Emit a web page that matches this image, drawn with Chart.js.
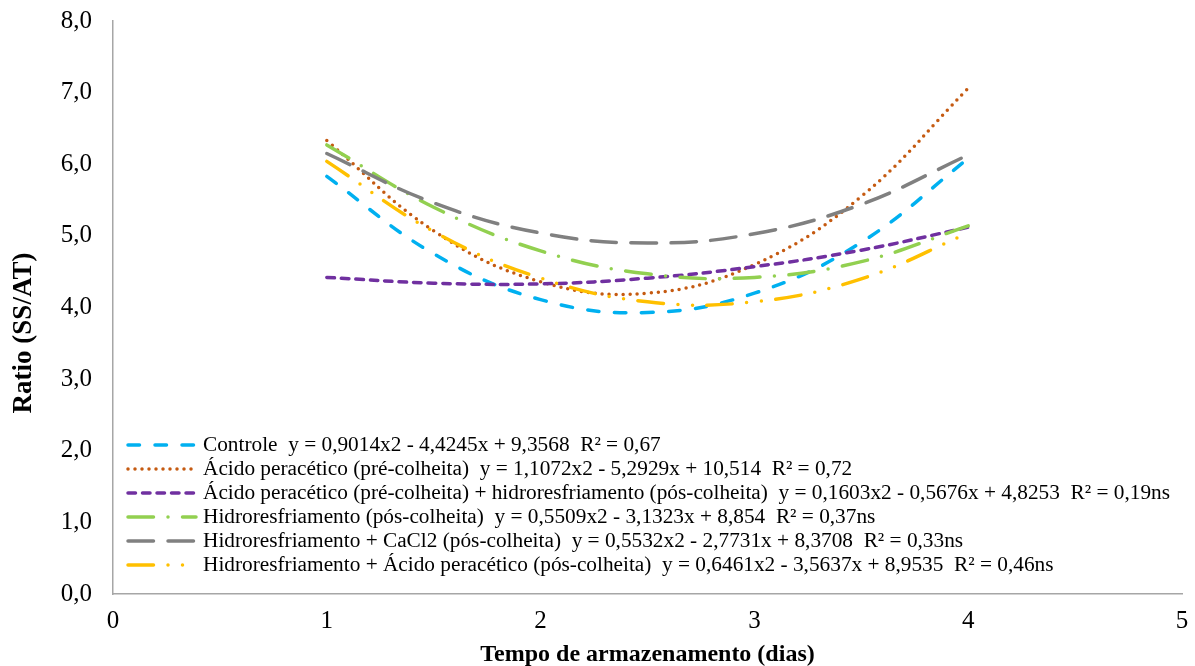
<!DOCTYPE html>
<html>
<head>
<meta charset="utf-8">
<script src="https://cdn.jsdelivr.net/npm/chart.js@4"></script>
<style>
  html, body { margin: 0; padding: 0; background: #fff; }
  #wrap { width: 1195px; height: 666px; }
</style>
</head>
<body>
<div id="wrap"><canvas id="chart" width="1195" height="666"></canvas></div>
<script>
// ─── DATA ─────────────────────────────────────────────────────────────────────
const days = [1, 1.5, 2, 2.5, 3, 3.5, 4]

const controle      = [5.83, 4.75, 4.11, 3.93, 4.20, 4.91, 6.08]
const acidoPre      = [6.33, 5.07, 4.36, 4.20, 4.60, 5.55, 7.06]
const acidoPreHidro = [4.42, 4.34, 4.33, 4.41, 4.57, 4.80, 5.12]
const hidro         = [6.27, 5.40, 4.79, 4.47, 4.42, 4.64, 5.14]
const hidroCaCl2    = [6.15, 5.46, 5.04, 4.90, 5.03, 5.44, 6.13]
const hidroAcido    = [6.04, 5.06, 4.41, 4.08, 4.08, 4.40, 5.04]

const legendLabels = [
  "Controle  y = 0,9014x2 - 4,4245x + 9,3568  R² = 0,67",
  "Ácido peracético (pré-colheita)  y = 1,1072x2 - 5,2929x + 10,514  R² = 0,72",
  "Ácido peracético (pré-colheita) + hidroresfriamento (pós-colheita)  y = 0,1603x2 - 0,5676x + 4,8253  R² = 0,19ns",
  "Hidroresfriamento (pós-colheita)  y = 0,5509x2 - 3,1323x + 8,854  R² = 0,37ns",
  "Hidroresfriamento + CaCl2 (pós-colheita)  y = 0,5532x2 - 2,7731x + 8,3708  R² = 0,33ns",
  "Hidroresfriamento + Ácido peracético (pós-colheita)  y = 0,6461x2 - 3,5637x + 8,9535  R² = 0,46ns",
]

const xTicks = [0, 1, 2, 3, 4, 5]
const yTicks = [0, 1, 2, 3, 4, 5, 6, 7, 8]

const xTitle = "Tempo de armazenamento (dias)"
const yTitle = "Ratio (SS/AT)"

// ─── STYLES ───────────────────────────────────────────────────────────────────
const SERIF = "'Liberation Serif', 'Times New Roman', serif"
const LW = 3.5

const seriesStyle = [
  { color: "#00B0F0", dash: [11.5, 15.5] },                 // dash
  { color: "#C55A11", dash: [0, 7] },                        // round dot
  { color: "#7030A0", dash: [7.5, 7] },                      // short dash
  { color: "#92D050", dash: [25.5, 14.5, 0, 14.5] },         // long dash dot
  { color: "#808080", dash: [25.5, 14.5] },                  // long dash
  { color: "#FFC000", dash: [25.5, 14.5, 0, 14.5, 0, 14.5] } // long dash dot dot
]

const seriesValues = [controle, acidoPre, acidoPreHidro, hidro, hidroCaCl2, hidroAcido]

const datasets = seriesValues.map((vals, i) => ({
  label: legendLabels[i],
  data: days.map((d, k) => ({ x: d, y: vals[k] })),
  showLine: true,
  borderColor: seriesStyle[i].color,
  borderDash: seriesStyle[i].dash,
  borderCapStyle: "round",
  borderWidth: LW,
  pointRadius: 0,
  pointHoverRadius: 0,
  tension: 0.4,
  fill: false,
  order: seriesValues.length - i,
}))

// ─── PLUGINS ──────────────────────────────────────────────────────────────────
// Excel style legend sitting inside the plot, plus the rotated y title
const legendPlugin = {
  id: "excelLegend",
  afterDraw(chart) {
    const ctx = chart.ctx
    ctx.save()
    datasets.forEach((ds, i) => {
      const y = 445 + i * 24
      ctx.beginPath()
      ctx.strokeStyle = ds.borderColor
      ctx.lineWidth = LW
      ctx.lineCap = "round"
      ctx.setLineDash(ds.borderDash)
      ctx.moveTo(128, y)
      ctx.lineTo(196, y)
      ctx.stroke()
      ctx.setLineDash([])
      ctx.fillStyle = "#000"
      ctx.font = `21.3px ${SERIF}`
      ctx.textBaseline = "middle"
      ctx.textAlign = "left"
      ctx.fillText(ds.label, 203, y)
    })

    // y title
    ctx.translate(24, 333)
    ctx.rotate(-Math.PI / 2)
    ctx.font = `bold 27px ${SERIF}`
    ctx.textAlign = "center"
    ctx.textBaseline = "middle"
    ctx.fillStyle = "#000"
    ctx.fillText(yTitle, 0, 0)
    ctx.restore()
  }
}

// ─── CHART ────────────────────────────────────────────────────────────────────
const axisColor = "#A6A6A6"

new Chart(document.getElementById("chart"), {
  type: "scatter",
  data: { datasets },
  plugins: [legendPlugin],
  options: {
    responsive: false,
    animation: false,
    events: [],
    layout: { padding: { top: 21, right: 13, left: 0, bottom: 0 } },
    plugins: {
      legend:  { display: false },
      tooltip: { enabled: false },
    },
    scales: {
      x: {
        type: "linear",
        min: 0, max: 5,
        afterFit: s => { s.height = 72; s.paddingLeft = 0; s.paddingRight = 0 },
        afterBuildTicks: s => { s.ticks = xTicks.map(v => ({ value: v })) },
        grid: { display: false, drawTicks: false },
        border: { display: true, color: axisColor, width: 1.5 },
        ticks: {
          padding: 12,
          color: "#000",
          font: { family: SERIF, size: 25 },
          callback: v => String(v),
        },
        title: {
          display: true,
          text: xTitle,
          color: "#000",
          padding: { top: 0, bottom: -3 },
          font: { family: SERIF, size: 24, weight: "bold" },
        },
      },
      y: {
        type: "linear",
        min: 0, max: 8,
        afterFit: s => { s.width = 113; s.paddingTop = 0; s.paddingBottom = 0 },
        afterBuildTicks: s => { s.ticks = yTicks.map(v => ({ value: v })) },
        grid: { display: false, drawTicks: false },
        border: { display: true, color: axisColor, width: 1.5 },
        ticks: {
          padding: 21,
          color: "#000",
          font: { family: SERIF, size: 25 },
          callback: v => v.toFixed(1).replace(".", ","),
        },
      },
    },
  },
})
</script>
</body>
</html>
